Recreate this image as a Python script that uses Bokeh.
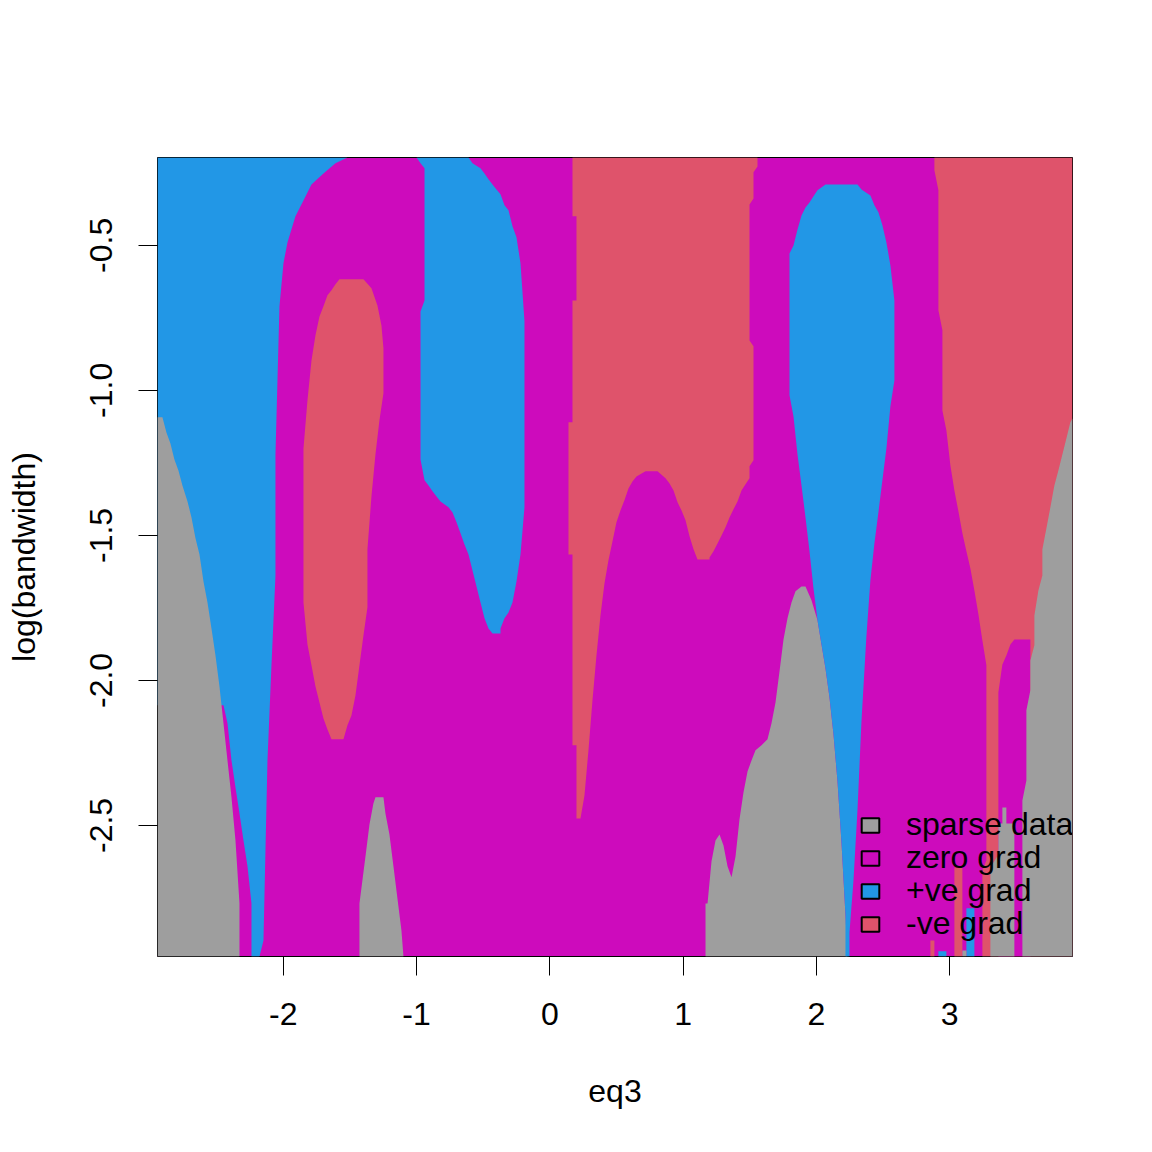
from bokeh.plotting import figure
from bokeh.models import FixedTicker, Legend, LegendItem
from bokeh.embed import file_html
from bokeh.resources import INLINE

X_MIN, X_MAX = -2.943, 3.921          # eq3 range
Y_MIN, Y_MAX = -2.952, -0.197         # log(bandwidth) range

COLORS = {"sparse": "#9E9E9E", "zero": "#CD0BBC", "pos": "#2297E6", "neg": "#DF536B"}
legend_cats = ["sparse", "zero", "pos", "neg"]
legend_labels = ["sparse data", "zero grad", "+ve grad", "-ve grad"]

x_ticks = [-2, -1, 0, 1, 2, 3]
x_tick_labels = ["-2", "-1", "0", "1", "2", "3"]
y_ticks = [-2.5, -2.0, -1.5, -1.0, -0.5]
y_tick_labels = ["-2.5", "-2.0", "-1.5", "-1.0", "-0.5"]

# region boundaries (eq3, log bandwidth)
blue_a_x = [X_MIN, -1.518, -1.608, -1.698, -1.788, -1.848, -1.908, -1.968, -1.998, -2.028, -2.058, -2.058,
            -2.088, -2.118, -2.148, -2.178, -2.238, -2.238, -2.268, -2.298, -2.328, -2.358, -2.388, -2.418,
            -2.448, X_MIN]
blue_a_y = [Y_MAX, Y_MAX, -0.217, -0.252, -0.290, -0.345, -0.400, -0.490, -0.562, -0.710, -1.221, -1.638,
            -1.948, -2.276, -2.897, Y_MIN, Y_MIN, -2.769, -2.641, -2.552, -2.459, -2.369, -2.276, -2.148,
            -2.086, -2.086]

gray_a_x = [X_MIN, -2.906, -2.876, -2.846, -2.816, -2.786, -2.756, -2.718, -2.688, -2.658, -2.628, -2.598,
            -2.568, -2.538, -2.508, -2.478, -2.448, -2.418, -2.388, -2.358, -2.328, -2.328, X_MIN]
gray_a_y = [-1.093, -1.093, -1.145, -1.183, -1.238, -1.276, -1.328, -1.383, -1.438, -1.510, -1.566, -1.659,
            -1.731, -1.821, -1.914, -2.021, -2.148, -2.276, -2.403, -2.552, -2.769, Y_MIN, Y_MIN]

red_b_x = [-1.578, -1.398, -1.338, -1.293, -1.263, -1.248, -1.248, -1.278, -1.308, -1.338, -1.368, -1.368,
           -1.398, -1.428, -1.458, -1.488, -1.518, -1.548, -1.638, -1.668, -1.698, -1.728, -1.758, -1.788,
           -1.818, -1.848, -1.848, -1.818, -1.788, -1.758, -1.728, -1.698, -1.668, -1.638, -1.608]
red_b_y = [-0.617, -0.617, -0.648, -0.707, -0.776, -0.855, -1.010, -1.103, -1.221, -1.366, -1.548, -1.748,
           -1.845, -1.948, -2.052, -2.121, -2.155, -2.203, -2.203, -2.169, -2.131, -2.076, -2.021, -1.948,
           -1.876, -1.731, -1.200, -1.034, -0.897, -0.810, -0.745, -0.710, -0.672, -0.655, -0.634]

blue_c_x = [-1.000, -0.610, -0.580, -0.520, -0.490, -0.460, -0.430, -0.400, -0.370, -0.340, -0.310, -0.280,
            -0.250, -0.220, -0.190, -0.190, -0.220, -0.250, -0.280, -0.310, -0.340, -0.370, -0.370, -0.430,
            -0.460, -0.490, -0.520, -0.550, -0.580, -0.610, -0.640, -0.670, -0.700, -0.730, -0.760, -0.820,
            -0.850, -0.880, -0.910, -0.940, -0.970, -0.970, -0.940, -0.940, -0.970]
blue_c_y = [Y_MAX, Y_MAX, -0.217, -0.234, -0.252, -0.272, -0.290, -0.307, -0.324, -0.362, -0.379, -0.434,
            -0.472, -0.562, -0.762, -1.403, -1.566, -1.659, -1.731, -1.766, -1.786, -1.821, -1.838, -1.838,
            -1.821, -1.786, -1.731, -1.676, -1.621, -1.566, -1.531, -1.493, -1.455, -1.421, -1.403, -1.383,
            -1.366, -1.348, -1.328, -1.310, -1.238, -0.728, -0.690, -0.234, -0.217]

red_d_x = [0.170, 1.558, 1.558, 1.528, 1.528, 1.498, 1.498, 1.528, 1.528, 1.498, 1.498, 1.468, 1.438, 1.408,
           1.378, 1.348, 1.318, 1.288, 1.258, 1.228, 1.198, 1.198, 1.108, 1.078, 1.048, 1.018, 0.988, 0.958,
           0.928, 0.898, 0.868, 0.808, 0.718, 0.650, 0.620, 0.590, 0.560, 0.530, 0.500, 0.470, 0.440, 0.410,
           0.380, 0.350, 0.320, 0.290, 0.260, 0.230, 0.200, 0.200, 0.170, 0.170, 0.140, 0.140, 0.170, 0.170,
           0.200, 0.200, 0.170]
red_d_y = [Y_MAX, Y_MAX, -0.228, -0.248, -0.338, -0.359, -0.828, -0.848, -1.241, -1.262, -1.303, -1.324,
           -1.345, -1.383, -1.410, -1.438, -1.472, -1.500, -1.528, -1.555, -1.576, -1.583, -1.583, -1.548,
           -1.503, -1.448, -1.414, -1.386, -1.345, -1.321, -1.303, -1.279, -1.279, -1.297, -1.314, -1.338,
           -1.379, -1.414, -1.455, -1.521, -1.586, -1.666, -1.776, -1.914, -2.069, -2.241, -2.397, -2.476,
           -2.476, -2.224, -2.224, -1.566, -1.566, -1.110, -1.110, -0.690, -0.690, -0.400, -0.400]

gray_f_x = [-1.428, -1.428, -1.383, -1.353, -1.323, -1.308, -1.248, -1.233, -1.203, -1.173, -1.143, -1.113, -1.098]
gray_f_y = [Y_MIN, -2.769, -2.607, -2.497, -2.424, -2.403, -2.403, -2.459, -2.531, -2.641, -2.752, -2.862, Y_MIN]

gray_g_x = [1.168, 1.168, 1.183, 1.213, 1.243, 1.273, 1.303, 1.333, 1.363, 1.393, 1.423, 1.453, 1.483, 1.513,
            1.543, 1.588, 1.633, 1.663, 1.693, 1.723, 1.753, 1.783, 1.813, 1.843, 1.888, 1.918, 1.963, 2.008,
            2.038, 2.068, 2.098, 2.128, 2.158, 2.188, 2.218, 2.233]
gray_g_y = [Y_MIN, -2.769, -2.769, -2.624, -2.552, -2.531, -2.569, -2.641, -2.679, -2.607, -2.479, -2.386,
            -2.314, -2.276, -2.241, -2.224, -2.203, -2.148, -2.076, -1.969, -1.859, -1.786, -1.731, -1.693,
            -1.676, -1.676, -1.724, -1.793, -1.876, -1.959, -2.059, -2.186, -2.348, -2.559, -2.810, Y_MIN]

blue_e_x = [2.068, 2.308, 2.338, 2.405, 2.435, 2.465, 2.495, 2.525, 2.555, 2.585, 2.585, 2.555, 2.525, 2.495,
            2.465, 2.435, 2.405, 2.375, 2.338, 2.308, 2.278, 2.248, 2.248, 2.218, 2.218, 2.188, 2.158, 2.128,
            2.098, 2.068, 2.038, 2.008, 1.978, 1.948, 1.918, 1.888, 1.858, 1.828, 1.798, 1.798, 1.828, 1.858,
            1.888, 1.918, 1.948, 1.978, 2.008]
blue_e_y = [-0.290, -0.290, -0.307, -0.328, -0.362, -0.386, -0.431, -0.490, -0.569, -0.690, -0.966, -1.055,
            -1.200, -1.310, -1.421, -1.528, -1.655, -1.848, -2.141, -2.448, -2.690, -2.869, Y_MIN, Y_MIN,
            -2.810, -2.559, -2.348, -2.186, -2.059, -1.959, -1.876, -1.793, -1.683, -1.555, -1.438, -1.328,
            -1.221, -1.090, -1.017, -0.528, -0.500, -0.445, -0.397, -0.369, -0.352, -0.331, -0.310]

red_h_x = [2.885, X_MAX, X_MAX, 3.245, 3.245, 3.275, 3.275, 3.245, 3.215, 3.185, 3.155, 3.125, 3.095, 3.065,
           3.035, 3.005, 2.975, 2.945, 2.945, 2.915, 2.915, 2.885]
red_h_y = [Y_MAX, Y_MAX, Y_MIN, Y_MIN, -2.655, -2.621, -1.948, -1.862, -1.772, -1.690, -1.614, -1.555,
           -1.493, -1.417, -1.345, -1.259, -1.138, -1.069, -0.793, -0.724, -0.310, -0.241]

zero_j_x = [3.485, 3.605, 3.605, 3.365, 3.365, 3.395, 3.425, 3.455]
zero_j_y = [-1.859, -1.859, Y_MIN, Y_MIN, -2.041, -1.945, -1.914, -1.876]

gray_i_x = [X_MAX, 3.905, 3.875, 3.845, 3.815, 3.785, 3.755, 3.725, 3.695, 3.695, 3.665, 3.635, 3.635, 3.605,
            3.605, 3.575, 3.575, 3.545, 3.545, X_MAX]
gray_i_y = [-1.097, -1.110, -1.166, -1.221, -1.276, -1.328, -1.403, -1.476, -1.548, -1.638, -1.690, -1.776,
            -1.879, -1.931, -2.034, -2.103, -2.345, -2.414, Y_MIN, Y_MIN]

gray_k_x = [3.395, 3.425, 3.425, 3.485, 3.485, 3.305, 3.305, 3.365, 3.365, 3.395]
gray_k_y = [-2.438, -2.438, -2.493, -2.493, Y_MIN, Y_MIN, -2.645, -2.600, -2.493, -2.493]

# thin strips at the bottom right
strip_left = [3.035, 3.125, 3.095, 2.915, 2.855]
strip_right = [3.095, 3.185, 3.125, 2.975, 2.885]
strip_top = [-2.645, -2.786, -2.931, -2.934, -2.897]
strip_cat = ["neg", "pos", "sparse", "pos", "neg"]

regions = [
    ("pos", blue_a_x, blue_a_y),
    ("sparse", gray_a_x, gray_a_y),
    ("neg", red_b_x, red_b_y),
    ("pos", blue_c_x, blue_c_y),
    ("neg", red_d_x, red_d_y),
    ("sparse", gray_f_x, gray_f_y),
    ("sparse", gray_g_x, gray_g_y),
    ("pos", blue_e_x, blue_e_y),
    ("neg", red_h_x, red_h_y),
    ("zero", zero_j_x, zero_j_y),
    ("sparse", gray_i_x, gray_i_y),
    ("sparse", gray_k_x, gray_k_y),
]

FONT = "Liberation Sans"
FS = "32px"

p = figure(frame_width=915, frame_height=799, x_range=(X_MIN, X_MAX), y_range=(Y_MIN, Y_MAX),
           output_backend="svg", toolbar_location=None,
           min_border_left=157, min_border_right=72, min_border_top=157, min_border_bottom=188)
p.background_fill_color = COLORS["zero"]
p.border_fill_color = "white"
p.outline_line_color = "black"
p.outline_line_width = 1
p.grid.visible = False

for cat, xs, ys in regions:
    p.patch(xs, ys, fill_color=COLORS[cat], line_color=None)

p.quad(left=strip_left, right=strip_right, top=strip_top, bottom=[Y_MIN] * len(strip_top),
       fill_color=[COLORS[c] for c in strip_cat], line_color=None)

# axes
p.xaxis.ticker = FixedTicker(ticks=x_ticks)
p.xaxis.major_label_overrides = {t: l for t, l in zip(x_ticks, x_tick_labels)}
p.yaxis.ticker = FixedTicker(ticks=y_ticks)
p.yaxis.major_label_overrides = {t: l for t, l in zip(y_ticks, y_tick_labels)}
p.yaxis.major_label_orientation = "parallel"
p.xaxis.axis_label = "eq3"
p.yaxis.axis_label = "log(bandwidth)"
for ax in (p.xaxis, p.yaxis):
    ax.axis_line_color = None
    ax.minor_tick_line_color = None
    ax.major_tick_in = 0
    ax.major_tick_out = 19
    ax.major_tick_line_color = "black"
    ax.major_tick_line_width = 1
    ax.major_label_text_font = FONT
    ax.major_label_text_font_size = FS
    ax.major_label_text_color = "black"
    ax.axis_label_text_font = FONT
    ax.axis_label_text_font_size = FS
    ax.axis_label_text_font_style = "normal"
    ax.axis_label_text_color = "black"
p.xaxis.major_label_standoff = 27
p.xaxis.axis_label_standoff = 45
p.yaxis.major_label_standoff = 26
p.yaxis.axis_label_standoff = 46

# legend: one single-entry legend per row so rows sit 33px apart as in the reference
nan = float("nan")
n_items = len(legend_cats)
for k, (cat, lab) in enumerate(zip(legend_cats, legend_labels)):
    r = p.quad(left=[nan], right=[nan], top=[nan], bottom=[nan],
               fill_color=COLORS[cat], line_color="black", line_width=2)
    lg = Legend(items=[LegendItem(label=lab, renderers=[r])],
                location=(702, 14 + (n_items - 1 - k) * 33), orientation="vertical",
                background_fill_alpha=0, border_line_color=None, padding=0, margin=0,
                spacing=0, glyph_width=22, glyph_height=18, label_standoff=25,
                label_text_font=FONT, label_text_font_size=FS, label_text_color="black",
                label_height=30)
    p.add_layout(lg)

open("out.html", "w").write(file_html(p, INLINE))
